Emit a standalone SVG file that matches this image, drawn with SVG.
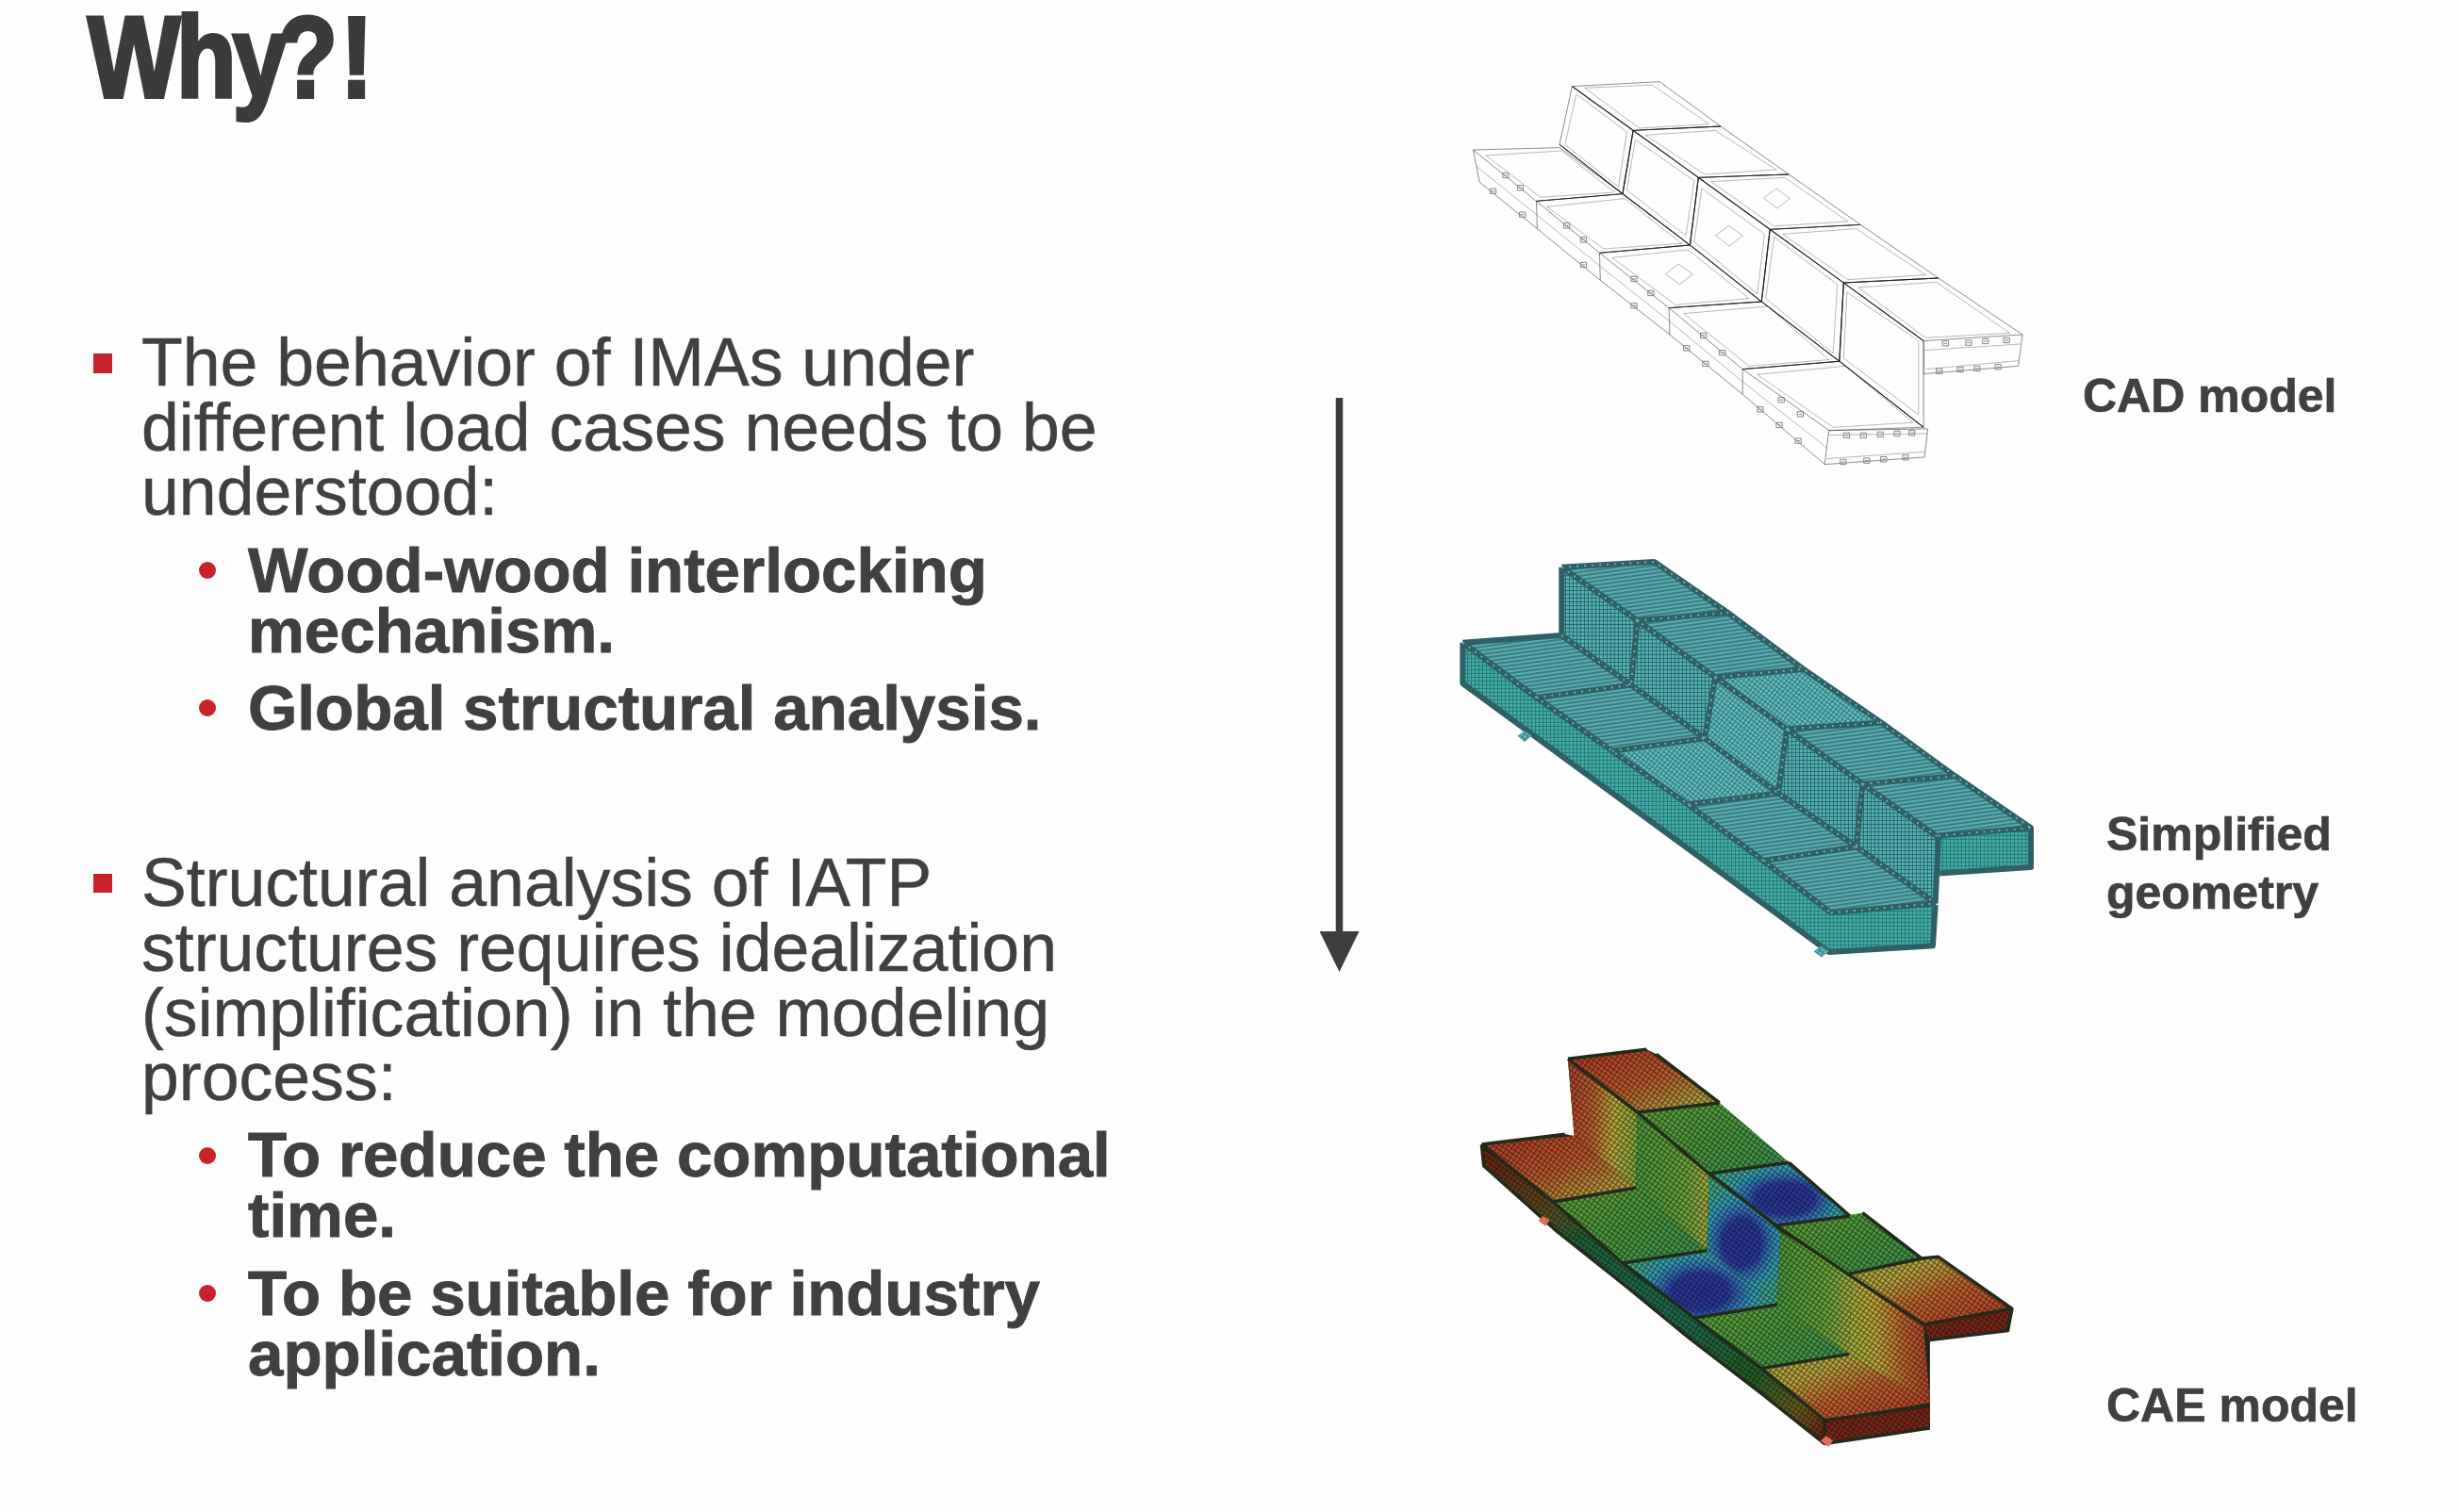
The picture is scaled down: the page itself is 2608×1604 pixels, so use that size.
<svg xmlns="http://www.w3.org/2000/svg" width="2608" height="1604" viewBox="0 0 2608 1604">
<style>
text{font-family:"Liberation Sans",Arial,sans-serif;fill:#404040;stroke:#404040}
.main{font-size:71.6px;stroke-width:.5}
.sub{font-size:67.3px;font-weight:700;stroke-width:.9}
.lbl{font-size:50px;font-weight:700;stroke-width:.7}
.red{fill:#c8232c}
.cadO{fill:none;stroke:#2c2c2c;stroke-width:1.4;vector-effect:non-scaling-stroke}
.cadI{fill:none;stroke:#5a5a5a;stroke-width:1.1;vector-effect:non-scaling-stroke}
.cadS{fill:none;stroke:#1e1e1e;stroke-width:2.6;vector-effect:non-scaling-stroke}
.meshE{fill:none;stroke:#2f6065;stroke-width:6;stroke-linejoin:round;vector-effect:non-scaling-stroke}
.meshN{fill:none;stroke:#6fb0b0;stroke-width:2;stroke-dasharray:2 6;vector-effect:non-scaling-stroke}
.caeE{fill:none;stroke:#242a1a;stroke-width:3.5;stroke-linejoin:round;vector-effect:non-scaling-stroke}
</style>
<defs>
<filter id="soft" x="-5%" y="-5%" width="110%" height="110%"><feGaussianBlur stdDeviation="0.5"/></filter>
<filter id="softT" x="-5%" y="-5%" width="110%" height="110%"><feGaussianBlur stdDeviation="0.5"/></filter>
<marker id="head" markerUnits="userSpaceOnUse" markerWidth="44" markerHeight="42" refX="0" refY="21" orient="auto"><path d="M0,0L43,21L0,42Z" fill="#3d3d3f"/></marker>
<pattern id="fine" patternUnits="userSpaceOnUse" width="4" height="4" patternTransform="scale(2.24,3)"><rect width="4" height="4" fill="#55b0b0"/><path d="M0,.5H4M.5,0V4" stroke="#2a6c72" stroke-width="1"/></pattern>
<pattern id="fineD" patternUnits="userSpaceOnUse" width="4" height="4" patternTransform="scale(2.24,3) rotate(38)"><rect width="4" height="4" fill="#66bcbc"/><path d="M0,.5H4M.5,0V4" stroke="#2f7a80" stroke-width="1"/></pattern>
<pattern id="hatch" patternUnits="userSpaceOnUse" width="4" height="4" patternTransform="scale(2.24,3) rotate(-8)"><rect width="4" height="4" fill="#5cabae"/><path d="M0,1H4" stroke="#2d6f76" stroke-width="1.5"/></pattern>
<pattern id="front" patternUnits="userSpaceOnUse" width="4" height="4" patternTransform="scale(2.24,3)"><rect width="4" height="4" fill="#42aba4"/><path d="M0,.5H4M.5,0V4" stroke="#287a7a" stroke-width="1"/></pattern>
<pattern id="weave" patternUnits="userSpaceOnUse" width="4.5" height="4.5" patternTransform="scale(2.24,3) rotate(35)"><path d="M0,.6H4.5M.6,0V4.5" stroke="#101a0a" stroke-width="1.2" opacity=".6"/></pattern>
<linearGradient id="rY" x1="0" y1="0" x2="1" y2="1"><stop offset="0" stop-color="#b53228"/><stop offset=".5" stop-color="#c4562e"/><stop offset=".85" stop-color="#b6a03e"/><stop offset="1" stop-color="#a4ab40"/></linearGradient>
<linearGradient id="yR" x1="0" y1="0" x2="1" y2="1"><stop offset="0" stop-color="#9cab40"/><stop offset=".3" stop-color="#bda53e"/><stop offset=".55" stop-color="#c9622f"/><stop offset="1" stop-color="#bb3328"/></linearGradient>
<linearGradient id="wR" x1="0" y1="0" x2="1" y2=".1"><stop offset="0" stop-color="#b53a2b"/><stop offset=".4" stop-color="#c4602f"/><stop offset=".7" stop-color="#c2a93e"/><stop offset="1" stop-color="#8ea83c"/></linearGradient>
<linearGradient id="wL" x1="0" y1=".1" x2="1" y2="0"><stop offset="0" stop-color="#a8b03e"/><stop offset=".3" stop-color="#c3a83d"/><stop offset=".62" stop-color="#c7652f"/><stop offset="1" stop-color="#b5332a"/></linearGradient>
<linearGradient id="gr" x1="0" y1="0" x2="1" y2="1"><stop offset="0" stop-color="#63a33e"/><stop offset=".5" stop-color="#4c9a3e"/><stop offset="1" stop-color="#3d9358"/></linearGradient>
<linearGradient id="grW" x1="0" y1="0" x2="1" y2="0"><stop offset="0" stop-color="#4a9a3c"/><stop offset=".7" stop-color="#6da63c"/><stop offset="1" stop-color="#a9ad3e"/></linearGradient>
<linearGradient id="fc" gradientUnits="userSpaceOnUse" x1="160" y1="400" x2="975" y2="1290"><stop offset="0" stop-color="#6e1d16"/><stop offset=".2" stop-color="#5f4a1e"/><stop offset=".3" stop-color="#22603a"/><stop offset=".55" stop-color="#1c6a56"/><stop offset=".8" stop-color="#255f28"/><stop offset=".92" stop-color="#6b5a20"/><stop offset="1" stop-color="#7a1f16"/></linearGradient>
<radialGradient id="blueS" gradientUnits="userSpaceOnUse" cx="0" cy="0" r="170"><stop offset="0" stop-color="#2a2ea0"/><stop offset=".4" stop-color="#2b36a8"/><stop offset=".55" stop-color="#2f6fbc"/><stop offset=".75" stop-color="#34a0c0"/><stop offset="1" stop-color="#3fa78c"/></radialGradient>
<radialGradient id="blueU" href="#blueS" gradientUnits="userSpaceOnUse" cx="0" cy="0" r="170" gradientTransform="translate(880,545) scale(1,.75)"/>
<radialGradient id="blueL" href="#blueS" gradientUnits="userSpaceOnUse" cx="0" cy="0" r="170" gradientTransform="translate(680,840) scale(1,.85)"/>
<radialGradient id="blueW" href="#blueS" gradientUnits="userSpaceOnUse" cx="0" cy="0" r="170" gradientTransform="translate(778,685) scale(.68,1.1)"/>
<path id="cm" d="M0,0h14v16h-14zM3,8h8" fill="none" stroke="#777" stroke-width=".9" vector-effect="non-scaling-stroke"/>
</defs>
<rect width="2608" height="1604" fill="#fefefe"/>

<g id="title"><text transform="translate(93,103) scale(0.84,.98)" x="0 112 183 240 319" y="0" font-size="124" font-weight="700" style="fill:#3c3a3a;stroke:#3c3a3a;stroke-width:4">Why?!</text></g>

<g id="bullets" filter="url(#softT)">
<rect class="red" x="99" y="375" width="20" height="21"/>
<text class="main" x="150" y="409">The behavior of IMAs under</text>
<text class="main" x="150" y="478">different load cases needs to be</text>
<text class="main" x="150" y="546">understood:</text>
<circle class="red" cx="220" cy="605" r="9"/>
<text class="sub" x="263" y="628">Wood-wood interlocking</text>
<text class="sub" x="263" y="692">mechanism.</text>
<circle class="red" cx="220" cy="751" r="9"/>
<text class="sub" x="263" y="774">Global structural analysis.</text>
<rect class="red" x="99" y="927" width="20" height="20"/>
<text class="main" x="150" y="961">Structural analysis of IATP</text>
<text class="main" x="150" y="1030">structures requires idealization</text>
<text class="main" x="150" y="1099">(simplification) in the modeling</text>
<text class="main" x="150" y="1167">process:</text>
<circle class="red" cx="220" cy="1226" r="9"/>
<text class="sub" x="263" y="1248">To reduce the computational</text>
<text class="sub" x="263" y="1312">time.</text>
<circle class="red" cx="220" cy="1372" r="9"/>
<text class="sub" x="263" y="1395">To be suitable for industry</text>
<text class="sub" x="263" y="1459">application.</text>
</g>

<g id="connectors"><line x1="1420.5" y1="422" x2="1420.5" y2="988" stroke="#3d3d3f" stroke-width="7.5" marker-end="url(#head)"/></g>

<g id="cad-model" transform="translate(1500,60) scale(0.4464,0.3333)" filter="url(#soft)">
<g class="cadO">
<polygon points="375,95 583,80 728,222 520,235"/><polygon points="520,235 728,222 890,375 675,385"/><polygon points="675,385 890,375 1060,535 845,550"/><polygon points="845,550 1060,535 1245,705 1020,720"/><polygon points="1020,720 1245,705 1445,885 1210,905"/>
<polygon points="140,297 345,290 495,437 290,460"/><polygon points="290,460 495,437 655,600 440,625"/><polygon points="440,625 655,600 825,780 605,800"/><polygon points="605,800 825,780 1010,970 780,995"/><polygon points="780,995 1010,970 1210,1180 985,1190"/>
<polygon points="375,95 520,235 495,437 345,280"/><polygon points="520,235 675,385 655,600 495,437"/><polygon points="675,385 845,550 825,780 655,600"/><polygon points="845,550 1020,720 1010,970 825,780"/><polygon points="1020,720 1210,905 1210,1180 1010,970"/>
<polyline points="140,297 155,400 292,548 442,712 607,885 780,1075 975,1298 1212,1275 1220,1185 985,1190 975,1298"/>
<polyline points="1210,905 1210,1010 1435,985 1445,885"/>
<path d="M290,460L292,548M440,625L442,712M605,800L607,885M780,995L780,1075"/>
</g>
<g class="cadI">
<polygon points="405,100 565,90 700,215 535,228"/><polygon points="550,250 715,235 860,360 690,375"/><polygon points="705,398 880,385 1030,525 855,540"/><polygon points="875,565 1050,548 1215,695 1030,710"/><polygon points="1055,735 1240,718 1415,880 1215,895"/>
<polygon points="170,315 350,300 475,432 300,448"/><polygon points="315,478 500,452 635,595 450,612"/><polygon points="470,640 650,615 795,770 620,790"/><polygon points="640,818 840,795 985,965 795,985"/><polygon points="815,1012 1025,985 1185,1165 995,1180"/>
<polygon points="385,120 505,240 485,415 358,280"/><polygon points="525,265 665,395 645,570 505,425"/><polygon points="683,420 832,565 815,755 665,590"/><polygon points="855,575 1005,725 995,945 835,770"/><polygon points="1028,750 1198,905 1198,1140 1020,960"/>
<path d="M148,350L292,505L442,668L607,843L780,1035L980,1245M985,1205L1220,1200M980,1280L1212,1258M1210,935L1440,915M1215,995L1437,968"/>
<polygon points="860,420 892,452 862,483 830,450"/><polygon points="747,538 780,570 748,603 716,570"/><polygon points="628,660 662,693 630,725 597,692"/>
</g>
<g class="cadS">
<path d="M375,95L520,235L675,385L845,550L1020,720L1210,905"/>
<path d="M345,280L495,437L655,600L825,780L1010,970L1210,1180"/>
<path d="M520,235L728,222M675,385L890,375M845,550L1060,535M1020,720L1245,705"/>
<path d="M290,460L495,437M440,625L655,600M605,800L825,780M780,995L1010,970"/>
<path d="M520,235L495,437M675,385L655,600M845,550L825,780M1020,720L1010,970"/>
</g>
<use href="#cm" x="1020" y="1198"/><use href="#cm" x="1060" y="1198"/><use href="#cm" x="1100" y="1195"/><use href="#cm" x="1140" y="1192"/><use href="#cm" x="1175" y="1190"/>
<use href="#cm" x="1012" y="1282"/><use href="#cm" x="1068" y="1278"/><use href="#cm" x="1108" y="1274"/><use href="#cm" x="1160" y="1268"/>
<use href="#cm" x="1255" y="905"/><use href="#cm" x="1310" y="903"/><use href="#cm" x="1350" y="898"/><use href="#cm" x="1400" y="895"/>
<use href="#cm" x="1240" y="993"/><use href="#cm" x="1290" y="988"/><use href="#cm" x="1330" y="985"/><use href="#cm" x="1380" y="980"/>
<use href="#cm" x="210" y="370"/><use href="#cm" x="245" y="410"/><use href="#cm" x="355" y="530"/><use href="#cm" x="395" y="575"/><use href="#cm" x="515" y="700"/><use href="#cm" x="555" y="745"/><use href="#cm" x="680" y="880"/><use href="#cm" x="725" y="935"/><use href="#cm" x="865" y="1085"/><use href="#cm" x="910" y="1130"/>
<use href="#cm" x="180" y="420"/><use href="#cm" x="250" y="495"/><use href="#cm" x="395" y="655"/><use href="#cm" x="515" y="785"/><use href="#cm" x="640" y="920"/><use href="#cm" x="685" y="970"/><use href="#cm" x="815" y="1115"/><use href="#cm" x="860" y="1165"/><use href="#cm" x="905" y="1215"/>
</g>

<g id="simplified-geometry" transform="translate(1500,570) scale(0.4464,0.3333)" filter="url(#soft)">
<polygon fill="#2f6065" points="350,95 560,75 590,88 745,240 925,420 1110,590 1285,760 1465,925 1465,1050 1245,1070 1232,1300 985,1320 115,465 115,335 350,315"/>
<polygon fill="url(#front)" points="115,335 290,510 470,680 650,850 830,1030 990,1195 985,1320 950,1285 115,465"/>
<polygon fill="url(#front)" points="990,1195 1240,1165 1232,1300 985,1320"/>
<polygon fill="url(#front)" points="1245,950 1465,925 1465,1050 1245,1070"/>
<polygon fill="url(#fine)" points="350,95 530,265 515,470 350,312"/><polygon fill="url(#fine)" points="530,265 715,445 690,640 515,470"/><polygon fill="url(#fineD)" points="715,445 885,610 865,815 690,640"/><polygon fill="url(#fine)" points="885,610 1065,785 1050,985 865,815"/><polygon fill="url(#fine)" points="1065,785 1245,955 1238,1165 1050,985"/>
<polygon fill="url(#hatch)" points="350,95 570,78 745,240 530,265"/><polygon fill="url(#hatch)" points="530,265 745,240 925,420 715,445"/><polygon fill="url(#fineD)" points="715,445 925,420 1110,590 885,610"/><polygon fill="url(#hatch)" points="885,610 1110,590 1285,760 1065,785"/><polygon fill="url(#hatch)" points="1065,785 1285,760 1465,925 1245,955"/>
<polygon fill="url(#hatch)" points="115,335 350,312 515,470 290,510"/><polygon fill="url(#hatch)" points="290,510 515,470 690,640 470,680"/><polygon fill="url(#fineD)" points="470,680 690,640 865,815 650,850"/><polygon fill="url(#hatch)" points="650,850 865,815 1050,985 830,1030"/><polygon fill="url(#hatch)" points="830,1030 1050,985 1238,1165 990,1195"/>
<path class="meshE" d="M350,95L530,265L715,445L885,610L1065,785L1245,955M350,312L515,470L690,640L865,815L1050,985L1238,1165M350,95L350,312M530,265L515,470M715,445L690,640M885,610L865,815M1065,785L1050,985M1245,955L1238,1165"/>
<path class="meshE" d="M530,265L745,240M715,445L925,420M885,610L1110,590M1065,785L1285,760M1245,950L1465,925M290,510L515,470M470,680L690,640M650,850L865,815M830,1030L1050,985M990,1195L1238,1165"/>
<path class="meshE" d="M350,95L570,78L745,240L925,420L1110,590L1285,760L1465,925L1465,1050L1245,1070M115,335L350,312M115,335L290,510L470,680L650,850L830,1030L990,1195M115,335L115,465L985,1320L1232,1300L1238,1170"/>
<path class="meshN" d="M350,95L530,265L715,445L885,610L1065,785L1245,955M350,312L515,470L690,640L865,815L1050,985L1238,1165M530,265L745,240M715,445L925,420M885,610L1110,590M1065,785L1285,760M1245,950L1465,925M290,510L515,470M470,680L690,640M650,850L865,815M830,1030L1050,985M990,1195L1238,1165M530,265L515,470M715,445L690,640M885,610L865,815M1065,785L1050,985M350,95L570,78L745,240L925,420L1110,590L1285,760L1465,925M115,335L290,510L470,680L650,850L830,1030L990,1195"/>
<polygon fill="url(#fineD)" stroke="#5aa" stroke-width="1" vector-effect="non-scaling-stroke" points="262,618 278,632 262,650 246,632"/>
<polygon fill="url(#fineD)" stroke="#5aa" stroke-width="1" vector-effect="non-scaling-stroke" points="966,1302 984,1317 968,1336 950,1318"/>
</g>

<g id="cae-model" transform="translate(1500,1090) scale(0.4464,0.3333)" filter="url(#soft)">
<polygon fill="#242a1a" points="365,100 552,70 575,85 725,240 890,430 1035,600 1065,590 1205,735 1245,730 1420,895 1410,965 1225,995 1225,1275 975,1325 825,1165 650,985 500,820 340,650 165,440 160,372 358,340 380,345"/>
<polygon fill="url(#fc)" points="160,372 330,555 495,750 665,925 825,1085 975,1250 975,1325 825,1165 650,985 500,820 340,650 165,440"/>
<polygon fill="#7d2218" points="975,1250 1225,1205 1225,1275 975,1325"/>
<polygon fill="#7d2218" points="1210,945 1420,895 1410,965 1225,995"/>
<polygon fill="url(#rY)" points="365,100 552,70 725,240 530,270"/><polygon fill="url(#gr)" points="530,270 725,240 890,430 700,465"/><polygon fill="url(#blueU)" points="700,465 890,430 1035,600 860,630"/><polygon fill="url(#gr)" points="860,630 1065,590 1205,735 1030,785"/><polygon fill="url(#yR)" points="1030,785 1245,730 1420,895 1210,945"/>
<polygon fill="url(#rY)" points="160,372 380,345 527,510 330,555"/><polygon fill="url(#gr)" points="330,555 527,510 695,710 495,750"/><polygon fill="url(#blueL)" points="495,750 695,710 862,882 665,925"/><polygon fill="url(#gr)" points="665,925 862,882 1032,1040 825,1085"/><polygon fill="url(#yR)" points="825,1085 1032,1040 1225,1195 975,1250"/>
<polygon fill="url(#wR)" points="365,100 530,270 527,510 380,345"/><polygon fill="url(#grW)" points="530,270 700,465 695,710 527,510"/><polygon fill="url(#blueW)" points="700,465 870,650 862,882 695,710"/><polygon fill="url(#grW)" points="870,650 1040,790 1032,1040 862,882"/><polygon fill="url(#wL)" points="1040,790 1210,945 1225,1195 1032,1040"/>
<polygon fill="url(#weave)" points="365,100 552,70 575,85 725,240 890,430 1035,600 1065,590 1205,735 1245,730 1420,895 1410,965 1225,995 1225,1275 975,1325 825,1165 650,985 500,820 340,650 165,440 160,372 358,340 380,345"/>
<path class="caeE" d="M365,100L552,70M575,85L725,240M890,430L1035,600M1065,590L1205,735L1245,730L1420,895L1410,965L1225,995M365,100L530,270L700,465L860,630L1030,785L1210,945M530,270L725,240M700,465L890,430M860,630L1035,600M1030,785L1205,735M1210,945L1420,895"/>
<path class="caeE" d="M160,372L358,340M160,372L330,555L495,750L665,925L825,1085L975,1250L1225,1205M330,555L527,510M495,750L695,710M665,925L862,882M825,1085L1032,1040M975,1250L975,1325L1225,1275M160,372L165,440L340,650L500,820L650,985L825,1165L975,1325"/>
<polygon fill="#d8705c" points="305,600 322,612 312,632 295,615"/>
<polygon fill="#d8705c" points="978,1300 995,1315 984,1335 965,1316"/>
</g>

<g id="label-cad"><text class="lbl" x="2209" y="437">CAD model</text></g>
<g id="label-simplified"><text class="lbl" x="2234" y="902">Simplified</text><text class="lbl" x="2234" y="964">geometry</text></g>
<g id="label-cae"><text class="lbl" x="2234" y="1508">CAE model</text></g>
</svg>
